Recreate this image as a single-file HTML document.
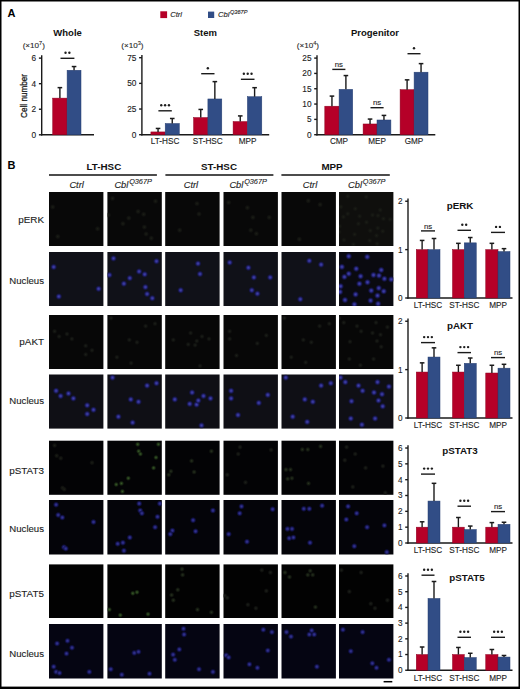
<!DOCTYPE html>
<html><head><meta charset="utf-8"><style>
html,body{margin:0;padding:0;background:#fff;}
svg{display:block;font-family:"Liberation Sans", sans-serif;}
</style></head><body>
<svg width="520" height="689" viewBox="0 0 520 689">
<rect width="520" height="689" fill="#fff"/>
<text x="7.4" y="16.6" font-size="11" text-anchor="start" font-weight="bold" font-style="normal" fill="#000"  >A</text>
<rect x="160.3" y="11.3" width="6.8" height="6.8" fill="#b50028" />
<text x="170.2" y="16.8" font-size="7.6" text-anchor="start" font-weight="normal" font-style="italic" fill="#1c1c1c" stroke="#1c1c1c" stroke-width="0.12" >Ctrl</text>
<rect x="208" y="11.6" width="6.2" height="6.4" fill="#314d86" />
<text x="218" y="16.6" font-size="7.6" text-anchor="start" font-weight="normal" font-style="italic" fill="#1c1c1c" stroke="#1c1c1c" stroke-width="0.12" >Cbl<tspan font-size="5.6" dx="0.6" dy="-3.0">Q367P</tspan></text>
<text x="67.6" y="36.3" font-size="9.5" text-anchor="middle" font-weight="bold" font-style="normal" fill="#111"  >Whole</text>
<text x="33.8" y="48.4" font-size="8.1" text-anchor="middle" font-weight="normal" font-style="normal" fill="#2a2a2a" stroke="#2a2a2a" stroke-width="0.12" >(×10<tspan font-size="5.6" dy="-3.3">7</tspan><tspan dy="3.3">)</tspan></text>
<line x1="41.7" y1="55.32" x2="41.7" y2="135.5" stroke="#1a1a1a" stroke-width="1.4" />
<line x1="41.1" y1="134.8" x2="94" y2="134.8" stroke="#1a1a1a" stroke-width="1.4" />
<line x1="38.9" y1="134.8" x2="41.7" y2="134.8" stroke="#1a1a1a" stroke-width="1.4" />
<text x="36.2" y="137.79" font-size="8.3" text-anchor="end" font-weight="normal" font-style="normal" fill="#1c1c1c" stroke="#1c1c1c" stroke-width="0.12" >0</text>
<line x1="38.9" y1="109.24" x2="41.7" y2="109.24" stroke="#1a1a1a" stroke-width="1.4" />
<text x="36.2" y="112.23" font-size="8.3" text-anchor="end" font-weight="normal" font-style="normal" fill="#1c1c1c" stroke="#1c1c1c" stroke-width="0.12" >2</text>
<line x1="38.9" y1="83.68" x2="41.7" y2="83.68" stroke="#1a1a1a" stroke-width="1.4" />
<text x="36.2" y="86.67" font-size="8.3" text-anchor="end" font-weight="normal" font-style="normal" fill="#1c1c1c" stroke="#1c1c1c" stroke-width="0.12" >4</text>
<line x1="38.9" y1="58.12" x2="41.7" y2="58.12" stroke="#1a1a1a" stroke-width="1.4" />
<text x="36.2" y="61.11" font-size="8.3" text-anchor="end" font-weight="normal" font-style="normal" fill="#1c1c1c" stroke="#1c1c1c" stroke-width="0.12" >6</text>
<rect x="52.7" y="98.12" width="14.4" height="36.68" fill="#b50028" stroke="#8e0020" stroke-width="0.5"/>
<line x1="59.9" y1="98.12" x2="59.9" y2="87.64" stroke="#1a1a1a" stroke-width="1.4" />
<line x1="57.6" y1="87.64" x2="62.2" y2="87.64" stroke="#1a1a1a" stroke-width="1.5" />
<rect x="67.1" y="70.26" width="13.9" height="64.54" fill="#314d86" stroke="#263f72" stroke-width="0.5"/>
<line x1="74.05" y1="70.26" x2="74.05" y2="66.55" stroke="#1a1a1a" stroke-width="1.4" />
<line x1="71.75" y1="66.55" x2="76.35" y2="66.55" stroke="#1a1a1a" stroke-width="1.5" />
<line x1="60.5" y1="58.3" x2="74.4" y2="58.3" stroke="#1a1a1a" stroke-width="1.4" />
<circle cx="65.53" cy="52.8" r="1.2" fill="#1e1e1e" />
<circle cx="69.38" cy="52.8" r="1.2" fill="#1e1e1e" />
<text transform="translate(26.8,95.9) rotate(-90)" font-size="9.9" text-anchor="middle" fill="#1c1c1c" stroke="#1c1c1c" stroke-width="0.3" textLength="44" lengthAdjust="spacingAndGlyphs">Cell number</text>
<text x="205.3" y="36.3" font-size="9.5" text-anchor="middle" font-weight="bold" font-style="normal" fill="#111"  >Stem</text>
<text x="132.4" y="48.4" font-size="8.1" text-anchor="middle" font-weight="normal" font-style="normal" fill="#2a2a2a" stroke="#2a2a2a" stroke-width="0.12" >(×10<tspan font-size="5.6" dy="-3.3">3</tspan><tspan dy="3.3">)</tspan></text>
<line x1="141.9" y1="54.9" x2="141.9" y2="135.4" stroke="#1a1a1a" stroke-width="1.4" />
<line x1="141.3" y1="134.7" x2="269.2" y2="134.7" stroke="#1a1a1a" stroke-width="1.4" />
<line x1="139.1" y1="134.7" x2="141.9" y2="134.7" stroke="#1a1a1a" stroke-width="1.4" />
<text x="136.4" y="137.69" font-size="8.3" text-anchor="end" font-weight="normal" font-style="normal" fill="#1c1c1c" stroke="#1c1c1c" stroke-width="0.12" >0</text>
<line x1="139.1" y1="109.03" x2="141.9" y2="109.03" stroke="#1a1a1a" stroke-width="1.4" />
<text x="136.4" y="112.02" font-size="8.3" text-anchor="end" font-weight="normal" font-style="normal" fill="#1c1c1c" stroke="#1c1c1c" stroke-width="0.12" >25</text>
<line x1="139.1" y1="83.37" x2="141.9" y2="83.37" stroke="#1a1a1a" stroke-width="1.4" />
<text x="136.4" y="86.35" font-size="8.3" text-anchor="end" font-weight="normal" font-style="normal" fill="#1c1c1c" stroke="#1c1c1c" stroke-width="0.12" >50</text>
<line x1="139.1" y1="57.7" x2="141.9" y2="57.7" stroke="#1a1a1a" stroke-width="1.4" />
<text x="136.4" y="60.69" font-size="8.3" text-anchor="end" font-weight="normal" font-style="normal" fill="#1c1c1c" stroke="#1c1c1c" stroke-width="0.12" >75</text>
<rect x="150.9" y="131.93" width="14.3" height="2.77" fill="#b50028" stroke="#8e0020" stroke-width="0.5"/>
<line x1="158.05" y1="131.93" x2="158.05" y2="128.44" stroke="#1a1a1a" stroke-width="1.4" />
<line x1="155.75" y1="128.44" x2="160.35" y2="128.44" stroke="#1a1a1a" stroke-width="1.5" />
<rect x="165.2" y="123.51" width="14.1" height="11.19" fill="#314d86" stroke="#263f72" stroke-width="0.5"/>
<line x1="172.25" y1="123.51" x2="172.25" y2="118.48" stroke="#1a1a1a" stroke-width="1.4" />
<line x1="169.95" y1="118.48" x2="174.55" y2="118.48" stroke="#1a1a1a" stroke-width="1.5" />
<rect x="193.6" y="117.55" width="14.3" height="17.15" fill="#b50028" stroke="#8e0020" stroke-width="0.5"/>
<line x1="200.75" y1="117.55" x2="200.75" y2="109.44" stroke="#1a1a1a" stroke-width="1.4" />
<line x1="198.45" y1="109.44" x2="203.05" y2="109.44" stroke="#1a1a1a" stroke-width="1.5" />
<rect x="207.9" y="98.97" width="13.9" height="35.73" fill="#314d86" stroke="#263f72" stroke-width="0.5"/>
<line x1="214.85" y1="98.97" x2="214.85" y2="81.62" stroke="#1a1a1a" stroke-width="1.4" />
<line x1="212.55" y1="81.62" x2="217.15" y2="81.62" stroke="#1a1a1a" stroke-width="1.5" />
<rect x="233.1" y="121.56" width="14.3" height="13.14" fill="#b50028" stroke="#8e0020" stroke-width="0.5"/>
<line x1="240.25" y1="121.56" x2="240.25" y2="115.91" stroke="#1a1a1a" stroke-width="1.4" />
<line x1="237.95" y1="115.91" x2="242.55" y2="115.91" stroke="#1a1a1a" stroke-width="1.5" />
<rect x="247.4" y="96.71" width="14.4" height="37.99" fill="#314d86" stroke="#263f72" stroke-width="0.5"/>
<line x1="254.6" y1="96.71" x2="254.6" y2="87.68" stroke="#1a1a1a" stroke-width="1.4" />
<line x1="252.3" y1="87.68" x2="256.9" y2="87.68" stroke="#1a1a1a" stroke-width="1.5" />
<line x1="158.4" y1="110.8" x2="171.8" y2="110.8" stroke="#1a1a1a" stroke-width="1.4" />
<circle cx="161.25" cy="105.3" r="1.2" fill="#1e1e1e" />
<circle cx="165.1" cy="105.3" r="1.2" fill="#1e1e1e" />
<circle cx="168.95" cy="105.3" r="1.2" fill="#1e1e1e" />
<line x1="201.2" y1="73.7" x2="214.5" y2="73.7" stroke="#1a1a1a" stroke-width="1.4" />
<circle cx="207.85" cy="68.2" r="1.2" fill="#1e1e1e" />
<line x1="240.9" y1="79.3" x2="254.5" y2="79.3" stroke="#1a1a1a" stroke-width="1.4" />
<circle cx="243.85" cy="73.8" r="1.2" fill="#1e1e1e" />
<circle cx="247.7" cy="73.8" r="1.2" fill="#1e1e1e" />
<circle cx="251.55" cy="73.8" r="1.2" fill="#1e1e1e" />
<text x="165.1" y="144.4" font-size="8.2" text-anchor="middle" font-weight="normal" font-style="normal" fill="#1c1c1c" stroke="#1c1c1c" stroke-width="0.12" >LT-HSC</text>
<text x="207.7" y="144.4" font-size="8.2" text-anchor="middle" font-weight="normal" font-style="normal" fill="#1c1c1c" stroke="#1c1c1c" stroke-width="0.12" >ST-HSC</text>
<text x="247.5" y="144.4" font-size="8.2" text-anchor="middle" font-weight="normal" font-style="normal" fill="#1c1c1c" stroke="#1c1c1c" stroke-width="0.12" >MPP</text>
<text x="375" y="36.3" font-size="9.5" text-anchor="middle" font-weight="bold" font-style="normal" fill="#111"  >Progenitor</text>
<text x="307.9" y="48.4" font-size="8.1" text-anchor="middle" font-weight="normal" font-style="normal" fill="#2a2a2a" stroke="#2a2a2a" stroke-width="0.12" >(×10<tspan font-size="5.6" dy="-3.3">4</tspan><tspan dy="3.3">)</tspan></text>
<line x1="317" y1="55.3" x2="317" y2="135.4" stroke="#1a1a1a" stroke-width="1.4" />
<line x1="316.4" y1="134.7" x2="435.3" y2="134.7" stroke="#1a1a1a" stroke-width="1.4" />
<line x1="314.2" y1="134.7" x2="317" y2="134.7" stroke="#1a1a1a" stroke-width="1.4" />
<text x="311.5" y="137.69" font-size="8.3" text-anchor="end" font-weight="normal" font-style="normal" fill="#1c1c1c" stroke="#1c1c1c" stroke-width="0.12" >0</text>
<line x1="314.2" y1="119.38" x2="317" y2="119.38" stroke="#1a1a1a" stroke-width="1.4" />
<text x="311.5" y="122.37" font-size="8.3" text-anchor="end" font-weight="normal" font-style="normal" fill="#1c1c1c" stroke="#1c1c1c" stroke-width="0.12" >5</text>
<line x1="314.2" y1="104.06" x2="317" y2="104.06" stroke="#1a1a1a" stroke-width="1.4" />
<text x="311.5" y="107.05" font-size="8.3" text-anchor="end" font-weight="normal" font-style="normal" fill="#1c1c1c" stroke="#1c1c1c" stroke-width="0.12" >10</text>
<line x1="314.2" y1="88.74" x2="317" y2="88.74" stroke="#1a1a1a" stroke-width="1.4" />
<text x="311.5" y="91.73" font-size="8.3" text-anchor="end" font-weight="normal" font-style="normal" fill="#1c1c1c" stroke="#1c1c1c" stroke-width="0.12" >15</text>
<line x1="314.2" y1="73.42" x2="317" y2="73.42" stroke="#1a1a1a" stroke-width="1.4" />
<text x="311.5" y="76.41" font-size="8.3" text-anchor="end" font-weight="normal" font-style="normal" fill="#1c1c1c" stroke="#1c1c1c" stroke-width="0.12" >20</text>
<line x1="314.2" y1="58.1" x2="317" y2="58.1" stroke="#1a1a1a" stroke-width="1.4" />
<text x="311.5" y="61.09" font-size="8.3" text-anchor="end" font-weight="normal" font-style="normal" fill="#1c1c1c" stroke="#1c1c1c" stroke-width="0.12" >25</text>
<rect x="324.8" y="106.2" width="14.3" height="28.5" fill="#b50028" stroke="#8e0020" stroke-width="0.5"/>
<line x1="331.95" y1="106.2" x2="331.95" y2="96.09" stroke="#1a1a1a" stroke-width="1.4" />
<line x1="329.65" y1="96.09" x2="334.25" y2="96.09" stroke="#1a1a1a" stroke-width="1.5" />
<rect x="339.1" y="89.35" width="13.6" height="45.35" fill="#314d86" stroke="#263f72" stroke-width="0.5"/>
<line x1="345.9" y1="89.35" x2="345.9" y2="75.56" stroke="#1a1a1a" stroke-width="1.4" />
<line x1="343.6" y1="75.56" x2="348.2" y2="75.56" stroke="#1a1a1a" stroke-width="1.5" />
<rect x="363.1" y="123.98" width="13.9" height="10.72" fill="#b50028" stroke="#8e0020" stroke-width="0.5"/>
<line x1="370.05" y1="123.98" x2="370.05" y2="119.07" stroke="#1a1a1a" stroke-width="1.4" />
<line x1="367.75" y1="119.07" x2="372.35" y2="119.07" stroke="#1a1a1a" stroke-width="1.5" />
<rect x="377" y="119.99" width="13.9" height="14.71" fill="#314d86" stroke="#263f72" stroke-width="0.5"/>
<line x1="383.95" y1="119.99" x2="383.95" y2="115.4" stroke="#1a1a1a" stroke-width="1.4" />
<line x1="381.65" y1="115.4" x2="386.25" y2="115.4" stroke="#1a1a1a" stroke-width="1.5" />
<rect x="400.1" y="89.66" width="14" height="45.04" fill="#b50028" stroke="#8e0020" stroke-width="0.5"/>
<line x1="407.1" y1="89.66" x2="407.1" y2="79.85" stroke="#1a1a1a" stroke-width="1.4" />
<line x1="404.8" y1="79.85" x2="409.4" y2="79.85" stroke="#1a1a1a" stroke-width="1.5" />
<rect x="414.1" y="72.19" width="13.9" height="62.51" fill="#314d86" stroke="#263f72" stroke-width="0.5"/>
<line x1="421.05" y1="72.19" x2="421.05" y2="63.62" stroke="#1a1a1a" stroke-width="1.4" />
<line x1="418.75" y1="63.62" x2="423.35" y2="63.62" stroke="#1a1a1a" stroke-width="1.5" />
<line x1="332.3" y1="69.4" x2="345.4" y2="69.4" stroke="#1a1a1a" stroke-width="1.4" />
<text x="338.85" y="67.1" font-size="7.8" text-anchor="middle" font-weight="normal" font-style="normal" fill="#1c1c1c" stroke="#1c1c1c" stroke-width="0.12" >ns</text>
<line x1="370.5" y1="107.7" x2="383.6" y2="107.7" stroke="#1a1a1a" stroke-width="1.4" />
<text x="377.05" y="105.4" font-size="7.8" text-anchor="middle" font-weight="normal" font-style="normal" fill="#1c1c1c" stroke="#1c1c1c" stroke-width="0.12" >ns</text>
<line x1="407.5" y1="53.7" x2="420.5" y2="53.7" stroke="#1a1a1a" stroke-width="1.4" />
<circle cx="414" cy="48.2" r="1.2" fill="#1e1e1e" />
<text x="339" y="144.4" font-size="8.2" text-anchor="middle" font-weight="normal" font-style="normal" fill="#1c1c1c" stroke="#1c1c1c" stroke-width="0.12" >CMP</text>
<text x="377" y="144.4" font-size="8.2" text-anchor="middle" font-weight="normal" font-style="normal" fill="#1c1c1c" stroke="#1c1c1c" stroke-width="0.12" >MEP</text>
<text x="414" y="144.4" font-size="8.2" text-anchor="middle" font-weight="normal" font-style="normal" fill="#1c1c1c" stroke="#1c1c1c" stroke-width="0.12" >GMP</text>
<text x="7.4" y="168.7" font-size="11" text-anchor="start" font-weight="bold" font-style="normal" fill="#000"  >B</text>
<line x1="49" y1="175" x2="156.9" y2="175" stroke="#111" stroke-width="1.5" />
<text x="103.9" y="169.8" font-size="9.8" text-anchor="middle" font-weight="bold" font-style="normal" fill="#111"  >LT-HSC</text>
<line x1="165.4" y1="175" x2="273.4" y2="175" stroke="#111" stroke-width="1.5" />
<text x="219" y="169.8" font-size="9.8" text-anchor="middle" font-weight="bold" font-style="normal" fill="#111"  >ST-HSC</text>
<line x1="281.4" y1="175" x2="389.8" y2="175" stroke="#111" stroke-width="1.5" />
<text x="332" y="169.8" font-size="9.8" text-anchor="middle" font-weight="bold" font-style="normal" fill="#111"  >MPP</text>
<text x="69.4" y="187.8" font-size="9.3" text-anchor="start" font-weight="normal" font-style="italic" fill="#1c1c1c" stroke="#1c1c1c" stroke-width="0.12" >Ctrl</text>
<text x="114.4" y="187.7" font-size="9.3" text-anchor="start" font-weight="normal" font-style="italic" fill="#1c1c1c" stroke="#1c1c1c" stroke-width="0.12" >Cbl<tspan font-size="7.3" dx="0.8" dy="-3.7">Q367P</tspan></text>
<text x="183.7" y="187.8" font-size="9.3" text-anchor="start" font-weight="normal" font-style="italic" fill="#1c1c1c" stroke="#1c1c1c" stroke-width="0.12" >Ctrl</text>
<text x="229.4" y="187.7" font-size="9.3" text-anchor="start" font-weight="normal" font-style="italic" fill="#1c1c1c" stroke="#1c1c1c" stroke-width="0.12" >Cbl<tspan font-size="7.3" dx="0.8" dy="-3.7">Q367P</tspan></text>
<text x="302.8" y="187.8" font-size="9.3" text-anchor="start" font-weight="normal" font-style="italic" fill="#1c1c1c" stroke="#1c1c1c" stroke-width="0.12" >Ctrl</text>
<text x="348" y="187.7" font-size="9.3" text-anchor="start" font-weight="normal" font-style="italic" fill="#1c1c1c" stroke="#1c1c1c" stroke-width="0.12" >Cbl<tspan font-size="7.3" dx="0.8" dy="-3.7">Q367P</tspan></text>
<defs><radialGradient id="nb"><stop offset="0" stop-color="#4444a4"/><stop offset="0.35" stop-color="#2c2c8c"/><stop offset="0.7" stop-color="#181856" stop-opacity="0.65"/><stop offset="1" stop-color="#0c0c40" stop-opacity="0"/></radialGradient><radialGradient id="gd"><stop offset="0" stop-color="#28321e"/><stop offset="0.5" stop-color="#182014" stop-opacity="0.8"/><stop offset="1" stop-color="#141a10" stop-opacity="0"/></radialGradient><radialGradient id="ge"><stop offset="0" stop-color="#1c1e17"/><stop offset="0.6" stop-color="#151712" stop-opacity="0.6"/><stop offset="1" stop-color="#101010" stop-opacity="0"/></radialGradient><radialGradient id="gb"><stop offset="0" stop-color="#3a5a2a"/><stop offset="0.5" stop-color="#223a18" stop-opacity="0.8"/><stop offset="1" stop-color="#142010" stop-opacity="0"/></radialGradient><radialGradient id="gf"><stop offset="0" stop-color="#1c1f1a"/><stop offset="0.5" stop-color="#141612" stop-opacity="0.8"/><stop offset="1" stop-color="#101010" stop-opacity="0"/></radialGradient><radialGradient id="nd"><stop offset="0" stop-color="#36368e"/><stop offset="0.35" stop-color="#242478"/><stop offset="0.7" stop-color="#121250" stop-opacity="0.65"/><stop offset="1" stop-color="#0c0c40" stop-opacity="0"/></radialGradient></defs>
<clipPath id="c00"><rect x="49" y="192" width="54.4" height="54"/></clipPath>
<rect x="49" y="192" width="54.4" height="54" fill="#080808" />
<g clip-path="url(#c00)">
<circle cx="52.7" cy="207" r="3" fill="url(#ge)" />
<circle cx="57.8" cy="236.5" r="3" fill="url(#ge)" />
<circle cx="97.6" cy="228.8" r="3" fill="url(#ge)" />
</g>
<clipPath id="c01"><rect x="107.4" y="192" width="54.4" height="54"/></clipPath>
<rect x="107.4" y="192" width="54.4" height="54" fill="#080808" />
<g clip-path="url(#c01)">
<circle cx="112.5" cy="198.4" r="3" fill="url(#ge)" />
<circle cx="108.4" cy="215" r="3" fill="url(#ge)" />
<circle cx="122.9" cy="223.7" r="3" fill="url(#ge)" />
<circle cx="128.8" cy="218.1" r="3" fill="url(#ge)" />
<circle cx="138.1" cy="211.5" r="3" fill="url(#ge)" />
<circle cx="143.7" cy="214.3" r="3" fill="url(#ge)" />
<circle cx="144.4" cy="227.1" r="3" fill="url(#ge)" />
<circle cx="146.1" cy="234" r="3" fill="url(#ge)" />
<circle cx="151.3" cy="238.2" r="3" fill="url(#ge)" />
<circle cx="155.5" cy="201.2" r="3" fill="url(#ge)" />
</g>
<clipPath id="c02"><rect x="165.2" y="192" width="54.4" height="54"/></clipPath>
<rect x="165.2" y="192" width="54.4" height="54" fill="#080808" />
<g clip-path="url(#c02)">
<circle cx="197" cy="203.6" r="3" fill="url(#ge)" />
<circle cx="199" cy="214" r="3" fill="url(#ge)" />
<circle cx="179.7" cy="230.2" r="3" fill="url(#ge)" />
</g>
<clipPath id="c03"><rect x="223.5" y="192" width="54.4" height="54"/></clipPath>
<rect x="223.5" y="192" width="54.4" height="54" fill="#080808" />
<g clip-path="url(#c03)">
<circle cx="228.7" cy="202.5" r="3" fill="url(#ge)" />
<circle cx="247.4" cy="207.7" r="3" fill="url(#ge)" />
<circle cx="252.9" cy="217.4" r="3" fill="url(#ge)" />
<circle cx="269.2" cy="217.4" r="3" fill="url(#ge)" />
<circle cx="250.8" cy="230.2" r="3" fill="url(#ge)" />
<circle cx="256.4" cy="233.7" r="3" fill="url(#ge)" />
</g>
<clipPath id="c04"><rect x="281.5" y="192" width="54.4" height="54"/></clipPath>
<rect x="281.5" y="192" width="54.4" height="54" fill="#080808" />
<g clip-path="url(#c04)">
<circle cx="308.3" cy="200.8" r="3" fill="url(#ge)" />
<circle cx="320.1" cy="204.6" r="3" fill="url(#ge)" />
<circle cx="299.3" cy="239.2" r="3" fill="url(#ge)" />
</g>
<clipPath id="c05"><rect x="339" y="192" width="54.4" height="54"/></clipPath>
<rect x="339" y="192" width="54.4" height="54" fill="#0f0f0d" />
<g clip-path="url(#c05)">
<circle cx="347.75" cy="196.25" r="3" fill="url(#ge)" />
<circle cx="366.25" cy="196.9" r="3" fill="url(#ge)" />
<circle cx="340.9" cy="206.9" r="3" fill="url(#ge)" />
<circle cx="355.25" cy="208.75" r="3" fill="url(#ge)" />
<circle cx="380.25" cy="210" r="3" fill="url(#ge)" />
<circle cx="347.75" cy="213.75" r="3" fill="url(#ge)" />
<circle cx="343.4" cy="216.9" r="3" fill="url(#ge)" />
<circle cx="359.6" cy="216.25" r="3" fill="url(#ge)" />
<circle cx="372.5" cy="215" r="3" fill="url(#ge)" />
<circle cx="378" cy="215.6" r="3" fill="url(#ge)" />
<circle cx="383.4" cy="218.75" r="3" fill="url(#ge)" />
<circle cx="390.25" cy="219.4" r="3" fill="url(#ge)" />
<circle cx="366.5" cy="222.25" r="3" fill="url(#ge)" />
<circle cx="358.4" cy="223.75" r="3" fill="url(#ge)" />
<circle cx="339.6" cy="226.25" r="3" fill="url(#ge)" />
<circle cx="370.25" cy="230.6" r="3" fill="url(#ge)" />
<circle cx="377.75" cy="228.1" r="3" fill="url(#ge)" />
<circle cx="382.75" cy="231.25" r="3" fill="url(#ge)" />
<circle cx="339" cy="231.9" r="3" fill="url(#ge)" />
<circle cx="354.6" cy="234.4" r="3" fill="url(#ge)" />
<circle cx="376.5" cy="235.6" r="3" fill="url(#ge)" />
<circle cx="344" cy="240" r="3" fill="url(#ge)" />
<circle cx="369.6" cy="240.6" r="3" fill="url(#ge)" />
<circle cx="377.1" cy="243.75" r="3" fill="url(#ge)" />
<circle cx="353.4" cy="244.4" r="3" fill="url(#ge)" />
</g>
<text x="44" y="222.5" font-size="9.9" text-anchor="end" font-weight="normal" font-style="normal" fill="#1c1c1c" stroke="#1c1c1c" stroke-width="0.12" >pERK</text>
<clipPath id="c10"><rect x="49" y="252" width="54.4" height="54"/></clipPath>
<rect x="49" y="252" width="54.4" height="54" fill="#101118" />
<g clip-path="url(#c10)">
<circle cx="53.7" cy="267" r="3.6" fill="url(#nb)" />
<circle cx="58.8" cy="296.5" r="3.6" fill="url(#nb)" />
<circle cx="98.6" cy="288.8" r="3.6" fill="url(#nb)" />
</g>
<clipPath id="c11"><rect x="107.4" y="252" width="54.4" height="54"/></clipPath>
<rect x="107.4" y="252" width="54.4" height="54" fill="#101118" />
<g clip-path="url(#c11)">
<circle cx="113.5" cy="258.4" r="3.6" fill="url(#nb)" />
<circle cx="109.4" cy="275" r="3.6" fill="url(#nb)" />
<circle cx="123.9" cy="283.7" r="3.6" fill="url(#nb)" />
<circle cx="129.8" cy="278.1" r="3.6" fill="url(#nb)" />
<circle cx="139.1" cy="271.5" r="3.6" fill="url(#nb)" />
<circle cx="144.7" cy="274.3" r="3.6" fill="url(#nb)" />
<circle cx="145.4" cy="287.1" r="3.6" fill="url(#nb)" />
<circle cx="147.1" cy="294" r="3.6" fill="url(#nb)" />
<circle cx="152.3" cy="298.2" r="3.6" fill="url(#nb)" />
<circle cx="156.5" cy="261.2" r="3.6" fill="url(#nb)" />
</g>
<clipPath id="c12"><rect x="165.2" y="252" width="54.4" height="54"/></clipPath>
<rect x="165.2" y="252" width="54.4" height="54" fill="#101118" />
<g clip-path="url(#c12)">
<circle cx="198" cy="263.6" r="3.6" fill="url(#nb)" />
<circle cx="200" cy="274" r="3.6" fill="url(#nb)" />
<circle cx="180.7" cy="290.2" r="3.6" fill="url(#nb)" />
</g>
<clipPath id="c13"><rect x="223.5" y="252" width="54.4" height="54"/></clipPath>
<rect x="223.5" y="252" width="54.4" height="54" fill="#101118" />
<g clip-path="url(#c13)">
<circle cx="229.7" cy="262.5" r="3.6" fill="url(#nb)" />
<circle cx="248.4" cy="267.7" r="3.6" fill="url(#nb)" />
<circle cx="253.9" cy="277.4" r="3.6" fill="url(#nb)" />
<circle cx="270.2" cy="277.4" r="3.6" fill="url(#nb)" />
<circle cx="251.8" cy="290.2" r="3.6" fill="url(#nb)" />
<circle cx="257.4" cy="293.7" r="3.6" fill="url(#nb)" />
</g>
<clipPath id="c14"><rect x="281.5" y="252" width="54.4" height="54"/></clipPath>
<rect x="281.5" y="252" width="54.4" height="54" fill="#101118" />
<g clip-path="url(#c14)">
<circle cx="309.3" cy="260.8" r="3.6" fill="url(#nb)" />
<circle cx="321.1" cy="264.6" r="3.6" fill="url(#nb)" />
<circle cx="300.3" cy="299.2" r="3.6" fill="url(#nb)" />
</g>
<clipPath id="c15"><rect x="339" y="252" width="54.4" height="54"/></clipPath>
<rect x="339" y="252" width="54.4" height="54" fill="#0a0a10" />
<g clip-path="url(#c15)">
<circle cx="348.75" cy="256.25" r="3.6" fill="url(#nb)" />
<circle cx="367.25" cy="256.9" r="3.6" fill="url(#nb)" />
<circle cx="341.9" cy="266.9" r="3.6" fill="url(#nb)" />
<circle cx="356.25" cy="268.75" r="3.6" fill="url(#nb)" />
<circle cx="381.25" cy="270" r="3.6" fill="url(#nb)" />
<circle cx="348.75" cy="273.75" r="3.6" fill="url(#nb)" />
<circle cx="344.4" cy="276.9" r="3.6" fill="url(#nb)" />
<circle cx="360.6" cy="276.25" r="3.6" fill="url(#nb)" />
<circle cx="373.5" cy="275" r="3.6" fill="url(#nb)" />
<circle cx="379" cy="275.6" r="3.6" fill="url(#nb)" />
<circle cx="384.4" cy="278.75" r="3.6" fill="url(#nb)" />
<circle cx="391.25" cy="279.4" r="3.6" fill="url(#nb)" />
<circle cx="367.5" cy="282.25" r="3.6" fill="url(#nb)" />
<circle cx="359.4" cy="283.75" r="3.6" fill="url(#nb)" />
<circle cx="340.6" cy="286.25" r="3.6" fill="url(#nb)" />
<circle cx="371.25" cy="290.6" r="3.6" fill="url(#nb)" />
<circle cx="378.75" cy="288.1" r="3.6" fill="url(#nb)" />
<circle cx="383.75" cy="291.25" r="3.6" fill="url(#nb)" />
<circle cx="340" cy="291.9" r="3.6" fill="url(#nb)" />
<circle cx="355.6" cy="294.4" r="3.6" fill="url(#nb)" />
<circle cx="377.5" cy="295.6" r="3.6" fill="url(#nb)" />
<circle cx="345" cy="300" r="3.6" fill="url(#nb)" />
<circle cx="370.6" cy="300.6" r="3.6" fill="url(#nb)" />
<circle cx="378.1" cy="303.75" r="3.6" fill="url(#nb)" />
<circle cx="354.4" cy="304.4" r="3.6" fill="url(#nb)" />
</g>
<text x="44" y="284.3" font-size="9.6" text-anchor="end" font-weight="normal" font-style="normal" fill="#1c1c1c" stroke="#1c1c1c" stroke-width="0.12" >Nucleus</text>
<clipPath id="c20"><rect x="49" y="315" width="54.4" height="54"/></clipPath>
<rect x="49" y="315" width="54.4" height="54" fill="#070707" />
<g clip-path="url(#c20)">
<circle cx="54.6" cy="331.3" r="2.8" fill="url(#gf)" />
<circle cx="59.1" cy="336.5" r="2.8" fill="url(#gf)" />
<circle cx="67" cy="334" r="2.8" fill="url(#gf)" />
<circle cx="71.9" cy="338.9" r="2.8" fill="url(#gf)" />
<circle cx="85.7" cy="345.8" r="2.8" fill="url(#gf)" />
<circle cx="92" cy="350.3" r="2.8" fill="url(#gf)" />
<circle cx="85.7" cy="354.5" r="2.8" fill="url(#gf)" />
</g>
<clipPath id="c21"><rect x="107.4" y="315" width="54.4" height="54"/></clipPath>
<rect x="107.4" y="315" width="54.4" height="54" fill="#070707" />
<g clip-path="url(#c21)">
<circle cx="111" cy="318.1" r="2.8" fill="url(#gf)" />
<circle cx="145.6" cy="326.1" r="2.8" fill="url(#gf)" />
<circle cx="155" cy="323.7" r="2.8" fill="url(#gf)" />
<circle cx="129.3" cy="339.9" r="2.8" fill="url(#gf)" />
<circle cx="137" cy="342.3" r="2.8" fill="url(#gf)" />
<circle cx="116.9" cy="357.2" r="2.8" fill="url(#gf)" />
<circle cx="131.1" cy="363.1" r="2.8" fill="url(#gf)" />
</g>
<clipPath id="c22"><rect x="165.2" y="315" width="54.4" height="54"/></clipPath>
<rect x="165.2" y="315" width="54.4" height="54" fill="#070707" />
<g clip-path="url(#c22)">
<circle cx="173.3" cy="339.9" r="2.8" fill="url(#gf)" />
<circle cx="190.6" cy="333" r="2.8" fill="url(#gf)" />
<circle cx="188.2" cy="344.4" r="2.8" fill="url(#gf)" />
<circle cx="195.1" cy="345.1" r="2.8" fill="url(#gf)" />
<circle cx="196.8" cy="341" r="2.8" fill="url(#gf)" />
<circle cx="202" cy="336.5" r="2.8" fill="url(#gf)" />
<circle cx="209" cy="338.9" r="2.8" fill="url(#gf)" />
<circle cx="200" cy="365.9" r="2.8" fill="url(#gf)" />
</g>
<clipPath id="c23"><rect x="223.5" y="315" width="54.4" height="54"/></clipPath>
<rect x="223.5" y="315" width="54.4" height="54" fill="#070707" />
<g clip-path="url(#c23)">
<circle cx="229.6" cy="331.3" r="2.8" fill="url(#gf)" />
<circle cx="229.6" cy="338.9" r="2.8" fill="url(#gf)" />
<circle cx="257.3" cy="343.4" r="2.8" fill="url(#gf)" />
<circle cx="266.3" cy="335.4" r="2.8" fill="url(#gf)" />
<circle cx="236.5" cy="355.5" r="2.8" fill="url(#gf)" />
</g>
<clipPath id="c24"><rect x="281.5" y="315" width="54.4" height="54"/></clipPath>
<rect x="281.5" y="315" width="54.4" height="54" fill="#070707" />
<g clip-path="url(#c24)">
<circle cx="284.3" cy="318.1" r="2.8" fill="url(#gf)" />
<circle cx="319.6" cy="326.1" r="2.8" fill="url(#gf)" />
<circle cx="329.3" cy="323.7" r="2.8" fill="url(#gf)" />
<circle cx="303.3" cy="339.9" r="2.8" fill="url(#gf)" />
<circle cx="311.3" cy="342.3" r="2.8" fill="url(#gf)" />
<circle cx="291.2" cy="357.2" r="2.8" fill="url(#gf)" />
<circle cx="305.7" cy="362.4" r="2.8" fill="url(#gf)" />
</g>
<clipPath id="c25"><rect x="339" y="315" width="54.4" height="54"/></clipPath>
<rect x="339" y="315" width="54.4" height="54" fill="#070707" />
<g clip-path="url(#c25)">
<circle cx="339" cy="318.1" r="2.8" fill="url(#gf)" />
<circle cx="343.8" cy="322.6" r="2.8" fill="url(#gf)" />
<circle cx="357" cy="326.1" r="2.8" fill="url(#gf)" />
<circle cx="361.1" cy="331.3" r="2.8" fill="url(#gf)" />
<circle cx="376" cy="322.6" r="2.8" fill="url(#gf)" />
<circle cx="387.4" cy="327.1" r="2.8" fill="url(#gf)" />
<circle cx="372.5" cy="333" r="2.8" fill="url(#gf)" />
<circle cx="380.5" cy="334.7" r="2.8" fill="url(#gf)" />
<circle cx="377" cy="341" r="2.8" fill="url(#gf)" />
<circle cx="350" cy="341.7" r="2.8" fill="url(#gf)" />
<circle cx="381.2" cy="346.8" r="2.8" fill="url(#gf)" />
<circle cx="349.3" cy="359" r="2.8" fill="url(#gf)" />
<circle cx="373.6" cy="359" r="2.8" fill="url(#gf)" />
<circle cx="360.4" cy="365.2" r="2.8" fill="url(#gf)" />
</g>
<text x="44" y="344.5" font-size="9.9" text-anchor="end" font-weight="normal" font-style="normal" fill="#1c1c1c" stroke="#1c1c1c" stroke-width="0.12" >pAKT</text>
<clipPath id="c30"><rect x="49" y="374.5" width="54.4" height="54.1"/></clipPath>
<rect x="49" y="374.5" width="54.4" height="54.1" fill="#0f0f15" />
<g clip-path="url(#c30)">
<circle cx="56.1" cy="390.8" r="3.6" fill="url(#nb)" />
<circle cx="60.6" cy="396" r="3.6" fill="url(#nb)" />
<circle cx="68.5" cy="393.5" r="3.6" fill="url(#nb)" />
<circle cx="73.4" cy="398.4" r="3.6" fill="url(#nb)" />
<circle cx="87.2" cy="405.3" r="3.6" fill="url(#nb)" />
<circle cx="93.5" cy="409.8" r="3.6" fill="url(#nb)" />
<circle cx="87.2" cy="414" r="3.6" fill="url(#nb)" />
</g>
<clipPath id="c31"><rect x="107.4" y="374.5" width="54.4" height="54.1"/></clipPath>
<rect x="107.4" y="374.5" width="54.4" height="54.1" fill="#0f0f15" />
<g clip-path="url(#c31)">
<circle cx="112.5" cy="377.6" r="3.6" fill="url(#nb)" />
<circle cx="147.1" cy="385.6" r="3.6" fill="url(#nb)" />
<circle cx="156.5" cy="383.2" r="3.6" fill="url(#nb)" />
<circle cx="130.8" cy="399.4" r="3.6" fill="url(#nb)" />
<circle cx="138.5" cy="401.8" r="3.6" fill="url(#nb)" />
<circle cx="118.4" cy="416.7" r="3.6" fill="url(#nb)" />
<circle cx="132.6" cy="422.6" r="3.6" fill="url(#nb)" />
</g>
<clipPath id="c32"><rect x="165.2" y="374.5" width="54.4" height="54.1"/></clipPath>
<rect x="165.2" y="374.5" width="54.4" height="54.1" fill="#0f0f15" />
<g clip-path="url(#c32)">
<circle cx="174.8" cy="399.4" r="3.6" fill="url(#nb)" />
<circle cx="192.1" cy="392.5" r="3.6" fill="url(#nb)" />
<circle cx="189.7" cy="403.9" r="3.6" fill="url(#nb)" />
<circle cx="196.6" cy="404.6" r="3.6" fill="url(#nb)" />
<circle cx="198.3" cy="400.5" r="3.6" fill="url(#nb)" />
<circle cx="203.5" cy="396" r="3.6" fill="url(#nb)" />
<circle cx="210.5" cy="398.4" r="3.6" fill="url(#nb)" />
<circle cx="201.5" cy="425.4" r="3.6" fill="url(#nb)" />
</g>
<clipPath id="c33"><rect x="223.5" y="374.5" width="54.4" height="54.1"/></clipPath>
<rect x="223.5" y="374.5" width="54.4" height="54.1" fill="#0f0f15" />
<g clip-path="url(#c33)">
<circle cx="231.1" cy="390.8" r="3.6" fill="url(#nb)" />
<circle cx="231.1" cy="398.4" r="3.6" fill="url(#nb)" />
<circle cx="258.8" cy="402.9" r="3.6" fill="url(#nb)" />
<circle cx="267.8" cy="394.9" r="3.6" fill="url(#nb)" />
<circle cx="238" cy="415" r="3.6" fill="url(#nb)" />
</g>
<clipPath id="c34"><rect x="281.5" y="374.5" width="54.4" height="54.1"/></clipPath>
<rect x="281.5" y="374.5" width="54.4" height="54.1" fill="#0f0f15" />
<g clip-path="url(#c34)">
<circle cx="285.8" cy="377.6" r="3.6" fill="url(#nb)" />
<circle cx="321.1" cy="385.6" r="3.6" fill="url(#nb)" />
<circle cx="330.8" cy="383.2" r="3.6" fill="url(#nb)" />
<circle cx="304.8" cy="399.4" r="3.6" fill="url(#nb)" />
<circle cx="312.8" cy="401.8" r="3.6" fill="url(#nb)" />
<circle cx="292.7" cy="416.7" r="3.6" fill="url(#nb)" />
<circle cx="307.2" cy="421.9" r="3.6" fill="url(#nb)" />
</g>
<clipPath id="c35"><rect x="339" y="374.5" width="54.4" height="54.1"/></clipPath>
<rect x="339" y="374.5" width="54.4" height="54.1" fill="#0f0f15" />
<g clip-path="url(#c35)">
<circle cx="340.5" cy="377.6" r="3.6" fill="url(#nb)" />
<circle cx="345.3" cy="382.1" r="3.6" fill="url(#nb)" />
<circle cx="358.5" cy="385.6" r="3.6" fill="url(#nb)" />
<circle cx="362.6" cy="390.8" r="3.6" fill="url(#nb)" />
<circle cx="377.5" cy="382.1" r="3.6" fill="url(#nb)" />
<circle cx="388.9" cy="386.6" r="3.6" fill="url(#nb)" />
<circle cx="374" cy="392.5" r="3.6" fill="url(#nb)" />
<circle cx="382" cy="394.2" r="3.6" fill="url(#nb)" />
<circle cx="378.5" cy="400.5" r="3.6" fill="url(#nb)" />
<circle cx="351.5" cy="401.2" r="3.6" fill="url(#nb)" />
<circle cx="382.7" cy="406.3" r="3.6" fill="url(#nb)" />
<circle cx="350.8" cy="418.5" r="3.6" fill="url(#nb)" />
<circle cx="375.1" cy="418.5" r="3.6" fill="url(#nb)" />
<circle cx="361.9" cy="424.7" r="3.6" fill="url(#nb)" />
</g>
<text x="44" y="404" font-size="9.6" text-anchor="end" font-weight="normal" font-style="normal" fill="#1c1c1c" stroke="#1c1c1c" stroke-width="0.12" >Nucleus</text>
<clipPath id="c40"><rect x="49" y="440.7" width="54.4" height="54.1"/></clipPath>
<rect x="49" y="440.7" width="54.4" height="54.1" fill="#030305" />
<g clip-path="url(#c40)">
<circle cx="54.6" cy="445.4" r="2.8" fill="url(#ge)" />
<circle cx="56.7" cy="455.7" r="2.8" fill="url(#ge)" />
<circle cx="60.8" cy="458.2" r="2.8" fill="url(#ge)" />
<circle cx="92" cy="462.7" r="2.8" fill="url(#ge)" />
<circle cx="62.5" cy="487.9" r="2.8" fill="url(#ge)" />
<circle cx="64.3" cy="489.3" r="2.8" fill="url(#ge)" />
</g>
<clipPath id="c41"><rect x="107.4" y="440.7" width="54.4" height="54.1"/></clipPath>
<rect x="107.4" y="440.7" width="54.4" height="54.1" fill="#030305" />
<g clip-path="url(#c41)">
<circle cx="137.7" cy="444.3" r="2.8" fill="url(#gb)" />
<circle cx="158.4" cy="444.3" r="2.8" fill="url(#gb)" />
<circle cx="138.7" cy="451.2" r="2.8" fill="url(#gb)" />
<circle cx="140.4" cy="454" r="2.8" fill="url(#gb)" />
<circle cx="156" cy="457.5" r="2.8" fill="url(#gb)" />
<circle cx="153.6" cy="467.9" r="2.8" fill="url(#gb)" />
<circle cx="128.3" cy="478.2" r="2.8" fill="url(#gb)" />
<circle cx="121.4" cy="483.4" r="2.8" fill="url(#gb)" />
<circle cx="116.2" cy="484.5" r="2.8" fill="url(#gb)" />
<circle cx="122.4" cy="491.4" r="2.8" fill="url(#gb)" />
</g>
<clipPath id="c42"><rect x="165.2" y="440.7" width="54.4" height="54.1"/></clipPath>
<rect x="165.2" y="440.7" width="54.4" height="54.1" fill="#030305" />
<g clip-path="url(#c42)">
<circle cx="211.4" cy="451.2" r="2.8" fill="url(#gd)" />
<circle cx="191.6" cy="460.9" r="2.8" fill="url(#gd)" />
<circle cx="194.1" cy="472" r="2.8" fill="url(#gd)" />
<circle cx="170.9" cy="471.3" r="2.8" fill="url(#gd)" />
<circle cx="168.8" cy="474.8" r="2.8" fill="url(#gd)" />
</g>
<clipPath id="c43"><rect x="223.5" y="440.7" width="54.4" height="54.1"/></clipPath>
<rect x="223.5" y="440.7" width="54.4" height="54.1" fill="#030305" />
<g clip-path="url(#c43)">
<circle cx="240" cy="447.1" r="2.8" fill="url(#gf)" />
<circle cx="238.2" cy="454" r="2.8" fill="url(#gf)" />
<circle cx="271.1" cy="449.9" r="2.8" fill="url(#gf)" />
<circle cx="227.2" cy="474.8" r="2.8" fill="url(#gf)" />
<circle cx="245.5" cy="482.4" r="2.8" fill="url(#gf)" />
</g>
<clipPath id="c44"><rect x="281.5" y="440.7" width="54.4" height="54.1"/></clipPath>
<rect x="281.5" y="440.7" width="54.4" height="54.1" fill="#030305" />
<g clip-path="url(#c44)">
<circle cx="302.3" cy="449.5" r="2.8" fill="url(#gd)" />
<circle cx="307.8" cy="449.5" r="2.8" fill="url(#gd)" />
<circle cx="320.6" cy="446.4" r="2.8" fill="url(#gd)" />
<circle cx="286" cy="469.6" r="2.8" fill="url(#gd)" />
<circle cx="290.5" cy="469.6" r="2.8" fill="url(#gd)" />
<circle cx="287.7" cy="478.9" r="2.8" fill="url(#gd)" />
<circle cx="291.9" cy="478.2" r="2.8" fill="url(#gd)" />
<circle cx="308.5" cy="483.4" r="2.8" fill="url(#gd)" />
</g>
<clipPath id="c45"><rect x="339" y="440.7" width="54.4" height="54.1"/></clipPath>
<rect x="339" y="440.7" width="54.4" height="54.1" fill="#030305" />
<g clip-path="url(#c45)">
<circle cx="346.6" cy="447.1" r="2.8" fill="url(#gf)" />
<circle cx="355.2" cy="454" r="2.8" fill="url(#gf)" />
<circle cx="344.8" cy="460.2" r="2.8" fill="url(#gf)" />
<circle cx="365.6" cy="467.9" r="2.8" fill="url(#gf)" />
<circle cx="382.9" cy="466.1" r="2.8" fill="url(#gf)" />
<circle cx="352.8" cy="486.9" r="2.8" fill="url(#gf)" />
<circle cx="385.3" cy="492.8" r="2.8" fill="url(#gf)" />
</g>
<text x="44" y="474.3" font-size="9.9" text-anchor="end" font-weight="normal" font-style="normal" fill="#1c1c1c" stroke="#1c1c1c" stroke-width="0.12" >pSTAT3</text>
<clipPath id="c50"><rect x="49" y="500" width="54.4" height="54.5"/></clipPath>
<rect x="49" y="500" width="54.4" height="54.5" fill="#040409" />
<g clip-path="url(#c50)">
<circle cx="56.1" cy="504.7" r="3.3" fill="url(#nd)" />
<circle cx="58.2" cy="515" r="3.3" fill="url(#nd)" />
<circle cx="62.3" cy="517.5" r="3.3" fill="url(#nd)" />
<circle cx="93.5" cy="522" r="3.3" fill="url(#nd)" />
<circle cx="64" cy="547.2" r="3.3" fill="url(#nd)" />
<circle cx="65.8" cy="548.6" r="3.3" fill="url(#nd)" />
</g>
<clipPath id="c51"><rect x="107.4" y="500" width="54.4" height="54.5"/></clipPath>
<rect x="107.4" y="500" width="54.4" height="54.5" fill="#040409" />
<g clip-path="url(#c51)">
<circle cx="139.2" cy="503.6" r="3.3" fill="url(#nd)" />
<circle cx="159.9" cy="503.6" r="3.3" fill="url(#nd)" />
<circle cx="140.2" cy="510.5" r="3.3" fill="url(#nd)" />
<circle cx="141.9" cy="513.3" r="3.3" fill="url(#nd)" />
<circle cx="157.5" cy="516.8" r="3.3" fill="url(#nd)" />
<circle cx="155.1" cy="527.2" r="3.3" fill="url(#nd)" />
<circle cx="129.8" cy="537.5" r="3.3" fill="url(#nd)" />
<circle cx="122.9" cy="542.7" r="3.3" fill="url(#nd)" />
<circle cx="117.7" cy="543.8" r="3.3" fill="url(#nd)" />
<circle cx="123.9" cy="550.7" r="3.3" fill="url(#nd)" />
</g>
<clipPath id="c52"><rect x="165.2" y="500" width="54.4" height="54.5"/></clipPath>
<rect x="165.2" y="500" width="54.4" height="54.5" fill="#040409" />
<g clip-path="url(#c52)">
<circle cx="212.9" cy="510.5" r="3.3" fill="url(#nd)" />
<circle cx="193.1" cy="520.2" r="3.3" fill="url(#nd)" />
<circle cx="195.6" cy="531.3" r="3.3" fill="url(#nd)" />
<circle cx="172.4" cy="530.6" r="3.3" fill="url(#nd)" />
<circle cx="170.3" cy="534.1" r="3.3" fill="url(#nd)" />
</g>
<clipPath id="c53"><rect x="223.5" y="500" width="54.4" height="54.5"/></clipPath>
<rect x="223.5" y="500" width="54.4" height="54.5" fill="#040409" />
<g clip-path="url(#c53)">
<circle cx="241.5" cy="506.4" r="3.3" fill="url(#nd)" />
<circle cx="239.7" cy="513.3" r="3.3" fill="url(#nd)" />
<circle cx="272.6" cy="509.2" r="3.3" fill="url(#nd)" />
<circle cx="228.7" cy="534.1" r="3.3" fill="url(#nd)" />
<circle cx="247" cy="541.7" r="3.3" fill="url(#nd)" />
</g>
<clipPath id="c54"><rect x="281.5" y="500" width="54.4" height="54.5"/></clipPath>
<rect x="281.5" y="500" width="54.4" height="54.5" fill="#040409" />
<g clip-path="url(#c54)">
<circle cx="303.8" cy="508.8" r="3.3" fill="url(#nd)" />
<circle cx="309.3" cy="508.8" r="3.3" fill="url(#nd)" />
<circle cx="322.1" cy="505.7" r="3.3" fill="url(#nd)" />
<circle cx="287.5" cy="528.9" r="3.3" fill="url(#nd)" />
<circle cx="292" cy="528.9" r="3.3" fill="url(#nd)" />
<circle cx="289.2" cy="538.2" r="3.3" fill="url(#nd)" />
<circle cx="293.4" cy="537.5" r="3.3" fill="url(#nd)" />
<circle cx="310" cy="542.7" r="3.3" fill="url(#nd)" />
</g>
<clipPath id="c55"><rect x="339" y="500" width="54.4" height="54.5"/></clipPath>
<rect x="339" y="500" width="54.4" height="54.5" fill="#040409" />
<g clip-path="url(#c55)">
<circle cx="348.1" cy="506.4" r="3.3" fill="url(#nd)" />
<circle cx="356.7" cy="513.3" r="3.3" fill="url(#nd)" />
<circle cx="346.3" cy="519.5" r="3.3" fill="url(#nd)" />
<circle cx="367.1" cy="527.2" r="3.3" fill="url(#nd)" />
<circle cx="384.4" cy="525.4" r="3.3" fill="url(#nd)" />
<circle cx="354.3" cy="546.2" r="3.3" fill="url(#nd)" />
<circle cx="386.8" cy="552.1" r="3.3" fill="url(#nd)" />
</g>
<text x="44" y="532" font-size="9.6" text-anchor="end" font-weight="normal" font-style="normal" fill="#1c1c1c" stroke="#1c1c1c" stroke-width="0.12" >Nucleus</text>
<clipPath id="c60"><rect x="49" y="564.4" width="54.4" height="53.6"/></clipPath>
<rect x="49" y="564.4" width="54.4" height="53.6" fill="#020202" />
<g clip-path="url(#c60)">
</g>
<clipPath id="c61"><rect x="107.4" y="564.4" width="54.4" height="53.6"/></clipPath>
<rect x="107.4" y="564.4" width="54.4" height="53.6" fill="#020202" />
<g clip-path="url(#c61)">
<circle cx="132.8" cy="593.3" r="2.8" fill="url(#gb)" />
<circle cx="137" cy="592.2" r="2.8" fill="url(#gb)" />
<circle cx="109.3" cy="609.6" r="2.8" fill="url(#gb)" />
<circle cx="120.3" cy="615.1" r="2.8" fill="url(#gb)" />
<circle cx="148" cy="614.1" r="2.8" fill="url(#gb)" />
</g>
<clipPath id="c62"><rect x="165.2" y="564.4" width="54.4" height="53.6"/></clipPath>
<rect x="165.2" y="564.4" width="54.4" height="53.6" fill="#020202" />
<g clip-path="url(#c62)">
<circle cx="182" cy="569.1" r="2.8" fill="url(#gd)" />
<circle cx="182.6" cy="574.9" r="2.8" fill="url(#gd)" />
<circle cx="177.8" cy="589.8" r="2.8" fill="url(#gd)" />
<circle cx="171.6" cy="595" r="2.8" fill="url(#gd)" />
<circle cx="173.3" cy="600.2" r="2.8" fill="url(#gd)" />
<circle cx="197.5" cy="609.6" r="2.8" fill="url(#gd)" />
<circle cx="211.4" cy="612.3" r="2.8" fill="url(#gd)" />
</g>
<clipPath id="c63"><rect x="223.5" y="564.4" width="54.4" height="53.6"/></clipPath>
<rect x="223.5" y="564.4" width="54.4" height="53.6" fill="#020202" />
<g clip-path="url(#c63)">
<circle cx="261.8" cy="570.1" r="2.8" fill="url(#gf)" />
<circle cx="270.4" cy="572.5" r="2.8" fill="url(#gf)" />
<circle cx="266.3" cy="590.9" r="2.8" fill="url(#gf)" />
<circle cx="224.7" cy="595.7" r="2.8" fill="url(#gf)" />
<circle cx="227.2" cy="597.8" r="2.8" fill="url(#gf)" />
<circle cx="247.9" cy="604.7" r="2.8" fill="url(#gf)" />
<circle cx="255.9" cy="608.2" r="2.8" fill="url(#gf)" />
</g>
<clipPath id="c64"><rect x="281.5" y="564.4" width="54.4" height="53.6"/></clipPath>
<rect x="281.5" y="564.4" width="54.4" height="53.6" fill="#020202" />
<g clip-path="url(#c64)">
<circle cx="285" cy="572.5" r="2.8" fill="url(#gd)" />
<circle cx="289.5" cy="577" r="2.8" fill="url(#gd)" />
<circle cx="307.8" cy="574.9" r="2.8" fill="url(#gd)" />
<circle cx="312.7" cy="574.9" r="2.8" fill="url(#gd)" />
<circle cx="310.2" cy="570.8" r="2.8" fill="url(#gd)" />
<circle cx="315.4" cy="607.1" r="2.8" fill="url(#gd)" />
</g>
<clipPath id="c65"><rect x="339" y="564.4" width="54.4" height="53.6"/></clipPath>
<rect x="339" y="564.4" width="54.4" height="53.6" fill="#020202" />
<g clip-path="url(#c65)">
<circle cx="341.4" cy="570.1" r="2.8" fill="url(#gf)" />
<circle cx="361.1" cy="572.5" r="2.8" fill="url(#gf)" />
<circle cx="349.3" cy="591.6" r="2.8" fill="url(#gf)" />
<circle cx="370.8" cy="603.7" r="2.8" fill="url(#gf)" />
<circle cx="375" cy="608.2" r="2.8" fill="url(#gf)" />
<circle cx="387.4" cy="600.2" r="2.8" fill="url(#gf)" />
</g>
<text x="44" y="596.7" font-size="9.9" text-anchor="end" font-weight="normal" font-style="normal" fill="#1c1c1c" stroke="#1c1c1c" stroke-width="0.12" >pSTAT5</text>
<clipPath id="c70"><rect x="49" y="624" width="54.4" height="54.5"/></clipPath>
<rect x="49" y="624" width="54.4" height="54.5" fill="#050512" />
<g clip-path="url(#c70)">
<circle cx="57.1" cy="643.5" r="3.3" fill="url(#nd)" />
<circle cx="67.5" cy="640.8" r="3.3" fill="url(#nd)" />
<circle cx="72" cy="647.7" r="3.3" fill="url(#nd)" />
<circle cx="66.5" cy="653.6" r="3.3" fill="url(#nd)" />
<circle cx="53.7" cy="666.7" r="3.3" fill="url(#nd)" />
<circle cx="56.1" cy="671.9" r="3.3" fill="url(#nd)" />
<circle cx="59.5" cy="673" r="3.3" fill="url(#nd)" />
<circle cx="89.3" cy="671.9" r="3.3" fill="url(#nd)" />
</g>
<clipPath id="c71"><rect x="107.4" y="624" width="54.4" height="54.5"/></clipPath>
<rect x="107.4" y="624" width="54.4" height="54.5" fill="#050512" />
<g clip-path="url(#c71)">
<circle cx="134.3" cy="652.9" r="3.3" fill="url(#nd)" />
<circle cx="138.5" cy="651.8" r="3.3" fill="url(#nd)" />
<circle cx="110.8" cy="669.2" r="3.3" fill="url(#nd)" />
<circle cx="121.8" cy="674.7" r="3.3" fill="url(#nd)" />
<circle cx="149.5" cy="673.7" r="3.3" fill="url(#nd)" />
</g>
<clipPath id="c72"><rect x="165.2" y="624" width="54.4" height="54.5"/></clipPath>
<rect x="165.2" y="624" width="54.4" height="54.5" fill="#050512" />
<g clip-path="url(#c72)">
<circle cx="183.5" cy="628.7" r="3.3" fill="url(#nd)" />
<circle cx="184.1" cy="634.5" r="3.3" fill="url(#nd)" />
<circle cx="179.3" cy="649.4" r="3.3" fill="url(#nd)" />
<circle cx="173.1" cy="654.6" r="3.3" fill="url(#nd)" />
<circle cx="174.8" cy="659.8" r="3.3" fill="url(#nd)" />
<circle cx="199" cy="669.2" r="3.3" fill="url(#nd)" />
<circle cx="212.9" cy="671.9" r="3.3" fill="url(#nd)" />
</g>
<clipPath id="c73"><rect x="223.5" y="624" width="54.4" height="54.5"/></clipPath>
<rect x="223.5" y="624" width="54.4" height="54.5" fill="#050512" />
<g clip-path="url(#c73)">
<circle cx="263.3" cy="629.7" r="3.3" fill="url(#nd)" />
<circle cx="271.9" cy="632.1" r="3.3" fill="url(#nd)" />
<circle cx="267.8" cy="650.5" r="3.3" fill="url(#nd)" />
<circle cx="226.2" cy="655.3" r="3.3" fill="url(#nd)" />
<circle cx="228.7" cy="657.4" r="3.3" fill="url(#nd)" />
<circle cx="249.4" cy="664.3" r="3.3" fill="url(#nd)" />
<circle cx="257.4" cy="667.8" r="3.3" fill="url(#nd)" />
</g>
<clipPath id="c74"><rect x="281.5" y="624" width="54.4" height="54.5"/></clipPath>
<rect x="281.5" y="624" width="54.4" height="54.5" fill="#050512" />
<g clip-path="url(#c74)">
<circle cx="286.5" cy="632.1" r="3.3" fill="url(#nd)" />
<circle cx="291" cy="636.6" r="3.3" fill="url(#nd)" />
<circle cx="309.3" cy="634.5" r="3.3" fill="url(#nd)" />
<circle cx="314.2" cy="634.5" r="3.3" fill="url(#nd)" />
<circle cx="311.7" cy="630.4" r="3.3" fill="url(#nd)" />
<circle cx="316.9" cy="666.7" r="3.3" fill="url(#nd)" />
</g>
<clipPath id="c75"><rect x="339" y="624" width="54.4" height="54.5"/></clipPath>
<rect x="339" y="624" width="54.4" height="54.5" fill="#050512" />
<g clip-path="url(#c75)">
<circle cx="342.9" cy="629.7" r="3.3" fill="url(#nd)" />
<circle cx="362.6" cy="632.1" r="3.3" fill="url(#nd)" />
<circle cx="350.8" cy="651.2" r="3.3" fill="url(#nd)" />
<circle cx="372.3" cy="663.3" r="3.3" fill="url(#nd)" />
<circle cx="376.5" cy="667.8" r="3.3" fill="url(#nd)" />
<circle cx="388.9" cy="659.8" r="3.3" fill="url(#nd)" />
</g>
<text x="44" y="657.1" font-size="9.6" text-anchor="end" font-weight="normal" font-style="normal" fill="#1c1c1c" stroke="#1c1c1c" stroke-width="0.12" >Nucleus</text>
<line x1="383.6" y1="681.7" x2="392.3" y2="681.7" stroke="#000" stroke-width="1.5" />
<line x1="408" y1="198.44" x2="408" y2="298.7" stroke="#1a1a1a" stroke-width="1.4" />
<line x1="407.4" y1="298" x2="512.5" y2="298" stroke="#1a1a1a" stroke-width="1.4" />
<line x1="405.2" y1="298" x2="408" y2="298" stroke="#1a1a1a" stroke-width="1.4" />
<text x="402.5" y="300.95" font-size="8.2" text-anchor="end" font-weight="normal" font-style="normal" fill="#1c1c1c" stroke="#1c1c1c" stroke-width="0.12" >0</text>
<line x1="405.2" y1="249.62" x2="408" y2="249.62" stroke="#1a1a1a" stroke-width="1.4" />
<text x="402.5" y="252.57" font-size="8.2" text-anchor="end" font-weight="normal" font-style="normal" fill="#1c1c1c" stroke="#1c1c1c" stroke-width="0.12" >1</text>
<line x1="405.2" y1="201.24" x2="408" y2="201.24" stroke="#1a1a1a" stroke-width="1.4" />
<text x="402.5" y="204.19" font-size="8.2" text-anchor="end" font-weight="normal" font-style="normal" fill="#1c1c1c" stroke="#1c1c1c" stroke-width="0.12" >2</text>
<rect x="416.25" y="249.62" width="11.75" height="48.38" fill="#b50028" stroke="#8e0020" stroke-width="0.5"/>
<line x1="422.12" y1="249.62" x2="422.12" y2="240.43" stroke="#1a1a1a" stroke-width="1.4" />
<line x1="419.82" y1="240.43" x2="424.43" y2="240.43" stroke="#1a1a1a" stroke-width="1.5" />
<rect x="428" y="249.62" width="12" height="48.38" fill="#314d86" stroke="#263f72" stroke-width="0.5"/>
<line x1="434" y1="249.62" x2="434" y2="238.49" stroke="#1a1a1a" stroke-width="1.4" />
<line x1="431.7" y1="238.49" x2="436.3" y2="238.49" stroke="#1a1a1a" stroke-width="1.5" />
<rect x="452.5" y="249.62" width="11.75" height="48.38" fill="#b50028" stroke="#8e0020" stroke-width="0.5"/>
<line x1="458.38" y1="249.62" x2="458.38" y2="243.33" stroke="#1a1a1a" stroke-width="1.4" />
<line x1="456.07" y1="243.33" x2="460.68" y2="243.33" stroke="#1a1a1a" stroke-width="1.5" />
<rect x="464.25" y="242.85" width="12" height="55.15" fill="#314d86" stroke="#263f72" stroke-width="0.5"/>
<line x1="470.25" y1="242.85" x2="470.25" y2="237.53" stroke="#1a1a1a" stroke-width="1.4" />
<line x1="467.95" y1="237.53" x2="472.55" y2="237.53" stroke="#1a1a1a" stroke-width="1.5" />
<rect x="485.75" y="249.62" width="12.25" height="48.38" fill="#b50028" stroke="#8e0020" stroke-width="0.5"/>
<line x1="491.88" y1="249.62" x2="491.88" y2="243.33" stroke="#1a1a1a" stroke-width="1.4" />
<line x1="489.57" y1="243.33" x2="494.18" y2="243.33" stroke="#1a1a1a" stroke-width="1.5" />
<rect x="498" y="251.56" width="12" height="46.44" fill="#314d86" stroke="#263f72" stroke-width="0.5"/>
<line x1="504" y1="251.56" x2="504" y2="248.65" stroke="#1a1a1a" stroke-width="1.4" />
<line x1="501.7" y1="248.65" x2="506.3" y2="248.65" stroke="#1a1a1a" stroke-width="1.5" />
<text x="460" y="208.6" font-size="9.8" text-anchor="middle" font-weight="bold" font-style="normal" fill="#111"  >pERK</text>
<line x1="421" y1="230.9" x2="435" y2="230.9" stroke="#1a1a1a" stroke-width="1.4" />
<text x="428" y="228.6" font-size="7.8" text-anchor="middle" font-weight="normal" font-style="normal" fill="#1c1c1c" stroke="#1c1c1c" stroke-width="0.12" >ns</text>
<line x1="457.5" y1="230.3" x2="471" y2="230.3" stroke="#1a1a1a" stroke-width="1.4" />
<circle cx="462.32" cy="224.8" r="1.2" fill="#1e1e1e" />
<circle cx="466.18" cy="224.8" r="1.2" fill="#1e1e1e" />
<line x1="491" y1="232.4" x2="505" y2="232.4" stroke="#1a1a1a" stroke-width="1.4" />
<circle cx="496.07" cy="226.9" r="1.2" fill="#1e1e1e" />
<circle cx="499.93" cy="226.9" r="1.2" fill="#1e1e1e" />
<text x="428" y="308.3" font-size="8.2" text-anchor="middle" font-weight="normal" font-style="normal" fill="#1c1c1c" stroke="#1c1c1c" stroke-width="0.12" >LT-HSC</text>
<text x="464.3" y="308.3" font-size="8.2" text-anchor="middle" font-weight="normal" font-style="normal" fill="#1c1c1c" stroke="#1c1c1c" stroke-width="0.12" >ST-HSC</text>
<text x="498" y="308.3" font-size="8.2" text-anchor="middle" font-weight="normal" font-style="normal" fill="#1c1c1c" stroke="#1c1c1c" stroke-width="0.12" >MPP</text>
<line x1="408" y1="318.44" x2="408" y2="418.7" stroke="#1a1a1a" stroke-width="1.4" />
<line x1="407.4" y1="418" x2="512.5" y2="418" stroke="#1a1a1a" stroke-width="1.4" />
<line x1="405.2" y1="418" x2="408" y2="418" stroke="#1a1a1a" stroke-width="1.4" />
<text x="402.5" y="420.95" font-size="8.2" text-anchor="end" font-weight="normal" font-style="normal" fill="#1c1c1c" stroke="#1c1c1c" stroke-width="0.12" >0</text>
<line x1="405.2" y1="369.62" x2="408" y2="369.62" stroke="#1a1a1a" stroke-width="1.4" />
<text x="402.5" y="372.57" font-size="8.2" text-anchor="end" font-weight="normal" font-style="normal" fill="#1c1c1c" stroke="#1c1c1c" stroke-width="0.12" >1</text>
<line x1="405.2" y1="321.24" x2="408" y2="321.24" stroke="#1a1a1a" stroke-width="1.4" />
<text x="402.5" y="324.19" font-size="8.2" text-anchor="end" font-weight="normal" font-style="normal" fill="#1c1c1c" stroke="#1c1c1c" stroke-width="0.12" >2</text>
<rect x="416.25" y="372.04" width="11.75" height="45.96" fill="#b50028" stroke="#8e0020" stroke-width="0.5"/>
<line x1="422.12" y1="372.04" x2="422.12" y2="362.85" stroke="#1a1a1a" stroke-width="1.4" />
<line x1="419.82" y1="362.85" x2="424.43" y2="362.85" stroke="#1a1a1a" stroke-width="1.5" />
<rect x="428" y="357.04" width="12" height="60.96" fill="#314d86" stroke="#263f72" stroke-width="0.5"/>
<line x1="434" y1="357.04" x2="434" y2="347.85" stroke="#1a1a1a" stroke-width="1.4" />
<line x1="431.7" y1="347.85" x2="436.3" y2="347.85" stroke="#1a1a1a" stroke-width="1.5" />
<rect x="452.5" y="372.04" width="11.75" height="45.96" fill="#b50028" stroke="#8e0020" stroke-width="0.5"/>
<line x1="458.38" y1="372.04" x2="458.38" y2="365.27" stroke="#1a1a1a" stroke-width="1.4" />
<line x1="456.07" y1="365.27" x2="460.68" y2="365.27" stroke="#1a1a1a" stroke-width="1.5" />
<rect x="464.25" y="363.33" width="12" height="54.67" fill="#314d86" stroke="#263f72" stroke-width="0.5"/>
<line x1="470.25" y1="363.33" x2="470.25" y2="358.01" stroke="#1a1a1a" stroke-width="1.4" />
<line x1="467.95" y1="358.01" x2="472.55" y2="358.01" stroke="#1a1a1a" stroke-width="1.5" />
<rect x="485.75" y="373.01" width="12.25" height="44.99" fill="#b50028" stroke="#8e0020" stroke-width="0.5"/>
<line x1="491.88" y1="373.01" x2="491.88" y2="365.27" stroke="#1a1a1a" stroke-width="1.4" />
<line x1="489.57" y1="365.27" x2="494.18" y2="365.27" stroke="#1a1a1a" stroke-width="1.5" />
<rect x="498" y="368.17" width="12" height="49.83" fill="#314d86" stroke="#263f72" stroke-width="0.5"/>
<line x1="504" y1="368.17" x2="504" y2="364.3" stroke="#1a1a1a" stroke-width="1.4" />
<line x1="501.7" y1="364.3" x2="506.3" y2="364.3" stroke="#1a1a1a" stroke-width="1.5" />
<text x="460" y="328.6" font-size="9.8" text-anchor="middle" font-weight="bold" font-style="normal" fill="#111"  >pAKT</text>
<line x1="421" y1="342.6" x2="435" y2="342.6" stroke="#1a1a1a" stroke-width="1.4" />
<circle cx="424.15" cy="337.1" r="1.2" fill="#1e1e1e" />
<circle cx="428" cy="337.1" r="1.2" fill="#1e1e1e" />
<circle cx="431.85" cy="337.1" r="1.2" fill="#1e1e1e" />
<line x1="457.5" y1="352.6" x2="471" y2="352.6" stroke="#1a1a1a" stroke-width="1.4" />
<circle cx="460.4" cy="347.1" r="1.2" fill="#1e1e1e" />
<circle cx="464.25" cy="347.1" r="1.2" fill="#1e1e1e" />
<circle cx="468.1" cy="347.1" r="1.2" fill="#1e1e1e" />
<line x1="491" y1="357.6" x2="505" y2="357.6" stroke="#1a1a1a" stroke-width="1.4" />
<text x="498" y="355.3" font-size="7.8" text-anchor="middle" font-weight="normal" font-style="normal" fill="#1c1c1c" stroke="#1c1c1c" stroke-width="0.12" >ns</text>
<text x="428" y="428.3" font-size="8.2" text-anchor="middle" font-weight="normal" font-style="normal" fill="#1c1c1c" stroke="#1c1c1c" stroke-width="0.12" >LT-HSC</text>
<text x="464.3" y="428.3" font-size="8.2" text-anchor="middle" font-weight="normal" font-style="normal" fill="#1c1c1c" stroke="#1c1c1c" stroke-width="0.12" >ST-HSC</text>
<text x="498" y="428.3" font-size="8.2" text-anchor="middle" font-weight="normal" font-style="normal" fill="#1c1c1c" stroke="#1c1c1c" stroke-width="0.12" >MPP</text>
<line x1="408" y1="445.22" x2="408" y2="543.7" stroke="#1a1a1a" stroke-width="1.4" />
<line x1="407.4" y1="543" x2="512.5" y2="543" stroke="#1a1a1a" stroke-width="1.4" />
<line x1="405.2" y1="543" x2="408" y2="543" stroke="#1a1a1a" stroke-width="1.4" />
<text x="402.5" y="545.95" font-size="8.2" text-anchor="end" font-weight="normal" font-style="normal" fill="#1c1c1c" stroke="#1c1c1c" stroke-width="0.12" >0</text>
<line x1="405.2" y1="527.17" x2="408" y2="527.17" stroke="#1a1a1a" stroke-width="1.4" />
<text x="402.5" y="530.12" font-size="8.2" text-anchor="end" font-weight="normal" font-style="normal" fill="#1c1c1c" stroke="#1c1c1c" stroke-width="0.12" >1</text>
<line x1="405.2" y1="511.34" x2="408" y2="511.34" stroke="#1a1a1a" stroke-width="1.4" />
<text x="402.5" y="514.29" font-size="8.2" text-anchor="end" font-weight="normal" font-style="normal" fill="#1c1c1c" stroke="#1c1c1c" stroke-width="0.12" >2</text>
<line x1="405.2" y1="495.51" x2="408" y2="495.51" stroke="#1a1a1a" stroke-width="1.4" />
<text x="402.5" y="498.46" font-size="8.2" text-anchor="end" font-weight="normal" font-style="normal" fill="#1c1c1c" stroke="#1c1c1c" stroke-width="0.12" >3</text>
<line x1="405.2" y1="479.68" x2="408" y2="479.68" stroke="#1a1a1a" stroke-width="1.4" />
<text x="402.5" y="482.63" font-size="8.2" text-anchor="end" font-weight="normal" font-style="normal" fill="#1c1c1c" stroke="#1c1c1c" stroke-width="0.12" >4</text>
<line x1="405.2" y1="463.85" x2="408" y2="463.85" stroke="#1a1a1a" stroke-width="1.4" />
<text x="402.5" y="466.8" font-size="8.2" text-anchor="end" font-weight="normal" font-style="normal" fill="#1c1c1c" stroke="#1c1c1c" stroke-width="0.12" >5</text>
<line x1="405.2" y1="448.02" x2="408" y2="448.02" stroke="#1a1a1a" stroke-width="1.4" />
<text x="402.5" y="450.97" font-size="8.2" text-anchor="end" font-weight="normal" font-style="normal" fill="#1c1c1c" stroke="#1c1c1c" stroke-width="0.12" >6</text>
<rect x="416.25" y="527.17" width="11.75" height="15.83" fill="#b50028" stroke="#8e0020" stroke-width="0.5"/>
<line x1="422.12" y1="527.17" x2="422.12" y2="521.79" stroke="#1a1a1a" stroke-width="1.4" />
<line x1="419.82" y1="521.79" x2="424.43" y2="521.79" stroke="#1a1a1a" stroke-width="1.5" />
<rect x="428" y="501.05" width="12" height="41.95" fill="#314d86" stroke="#263f72" stroke-width="0.5"/>
<line x1="434" y1="501.05" x2="434" y2="483.32" stroke="#1a1a1a" stroke-width="1.4" />
<line x1="431.7" y1="483.32" x2="436.3" y2="483.32" stroke="#1a1a1a" stroke-width="1.5" />
<rect x="452.5" y="527.17" width="11.75" height="15.83" fill="#b50028" stroke="#8e0020" stroke-width="0.5"/>
<line x1="458.38" y1="527.17" x2="458.38" y2="517.51" stroke="#1a1a1a" stroke-width="1.4" />
<line x1="456.07" y1="517.51" x2="460.68" y2="517.51" stroke="#1a1a1a" stroke-width="1.5" />
<rect x="464.25" y="529.54" width="12" height="13.46" fill="#314d86" stroke="#263f72" stroke-width="0.5"/>
<line x1="470.25" y1="529.54" x2="470.25" y2="526.06" stroke="#1a1a1a" stroke-width="1.4" />
<line x1="467.95" y1="526.06" x2="472.55" y2="526.06" stroke="#1a1a1a" stroke-width="1.5" />
<rect x="485.75" y="527.17" width="12.25" height="15.83" fill="#b50028" stroke="#8e0020" stroke-width="0.5"/>
<line x1="491.88" y1="527.17" x2="491.88" y2="522.58" stroke="#1a1a1a" stroke-width="1.4" />
<line x1="489.57" y1="522.58" x2="494.18" y2="522.58" stroke="#1a1a1a" stroke-width="1.5" />
<rect x="498" y="524.32" width="12" height="18.68" fill="#314d86" stroke="#263f72" stroke-width="0.5"/>
<line x1="504" y1="524.32" x2="504" y2="522.26" stroke="#1a1a1a" stroke-width="1.4" />
<line x1="501.7" y1="522.26" x2="506.3" y2="522.26" stroke="#1a1a1a" stroke-width="1.5" />
<text x="460" y="453.6" font-size="9.8" text-anchor="middle" font-weight="bold" font-style="normal" fill="#111"  >pSTAT3</text>
<line x1="421" y1="474.1" x2="435" y2="474.1" stroke="#1a1a1a" stroke-width="1.4" />
<circle cx="424.15" cy="468.6" r="1.2" fill="#1e1e1e" />
<circle cx="428" cy="468.6" r="1.2" fill="#1e1e1e" />
<circle cx="431.85" cy="468.6" r="1.2" fill="#1e1e1e" />
<line x1="457.5" y1="506.2" x2="471" y2="506.2" stroke="#1a1a1a" stroke-width="1.4" />
<circle cx="460.4" cy="500.7" r="1.2" fill="#1e1e1e" />
<circle cx="464.25" cy="500.7" r="1.2" fill="#1e1e1e" />
<circle cx="468.1" cy="500.7" r="1.2" fill="#1e1e1e" />
<line x1="491" y1="511.6" x2="505" y2="511.6" stroke="#1a1a1a" stroke-width="1.4" />
<text x="498" y="509.3" font-size="7.8" text-anchor="middle" font-weight="normal" font-style="normal" fill="#1c1c1c" stroke="#1c1c1c" stroke-width="0.12" >ns</text>
<text x="428" y="553.3" font-size="8.2" text-anchor="middle" font-weight="normal" font-style="normal" fill="#1c1c1c" stroke="#1c1c1c" stroke-width="0.12" >LT-HSC</text>
<text x="464.3" y="553.3" font-size="8.2" text-anchor="middle" font-weight="normal" font-style="normal" fill="#1c1c1c" stroke="#1c1c1c" stroke-width="0.12" >ST-HSC</text>
<text x="498" y="553.3" font-size="8.2" text-anchor="middle" font-weight="normal" font-style="normal" fill="#1c1c1c" stroke="#1c1c1c" stroke-width="0.12" >MPP</text>
<line x1="408" y1="573.19" x2="408" y2="670.95" stroke="#1a1a1a" stroke-width="1.4" />
<line x1="407.4" y1="670.25" x2="512.5" y2="670.25" stroke="#1a1a1a" stroke-width="1.4" />
<line x1="405.2" y1="670.25" x2="408" y2="670.25" stroke="#1a1a1a" stroke-width="1.4" />
<text x="402.5" y="673.2" font-size="8.2" text-anchor="end" font-weight="normal" font-style="normal" fill="#1c1c1c" stroke="#1c1c1c" stroke-width="0.12" >0</text>
<line x1="405.2" y1="654.54" x2="408" y2="654.54" stroke="#1a1a1a" stroke-width="1.4" />
<text x="402.5" y="657.49" font-size="8.2" text-anchor="end" font-weight="normal" font-style="normal" fill="#1c1c1c" stroke="#1c1c1c" stroke-width="0.12" >1</text>
<line x1="405.2" y1="638.83" x2="408" y2="638.83" stroke="#1a1a1a" stroke-width="1.4" />
<text x="402.5" y="641.78" font-size="8.2" text-anchor="end" font-weight="normal" font-style="normal" fill="#1c1c1c" stroke="#1c1c1c" stroke-width="0.12" >2</text>
<line x1="405.2" y1="623.12" x2="408" y2="623.12" stroke="#1a1a1a" stroke-width="1.4" />
<text x="402.5" y="626.07" font-size="8.2" text-anchor="end" font-weight="normal" font-style="normal" fill="#1c1c1c" stroke="#1c1c1c" stroke-width="0.12" >3</text>
<line x1="405.2" y1="607.41" x2="408" y2="607.41" stroke="#1a1a1a" stroke-width="1.4" />
<text x="402.5" y="610.36" font-size="8.2" text-anchor="end" font-weight="normal" font-style="normal" fill="#1c1c1c" stroke="#1c1c1c" stroke-width="0.12" >4</text>
<line x1="405.2" y1="591.7" x2="408" y2="591.7" stroke="#1a1a1a" stroke-width="1.4" />
<text x="402.5" y="594.65" font-size="8.2" text-anchor="end" font-weight="normal" font-style="normal" fill="#1c1c1c" stroke="#1c1c1c" stroke-width="0.12" >5</text>
<line x1="405.2" y1="575.99" x2="408" y2="575.99" stroke="#1a1a1a" stroke-width="1.4" />
<text x="402.5" y="578.94" font-size="8.2" text-anchor="end" font-weight="normal" font-style="normal" fill="#1c1c1c" stroke="#1c1c1c" stroke-width="0.12" >6</text>
<rect x="416.25" y="654.54" width="11.75" height="15.71" fill="#b50028" stroke="#8e0020" stroke-width="0.5"/>
<line x1="422.12" y1="654.54" x2="422.12" y2="647" stroke="#1a1a1a" stroke-width="1.4" />
<line x1="419.82" y1="647" x2="424.43" y2="647" stroke="#1a1a1a" stroke-width="1.5" />
<rect x="428" y="598.46" width="12" height="71.79" fill="#314d86" stroke="#263f72" stroke-width="0.5"/>
<line x1="434" y1="598.46" x2="434" y2="581.49" stroke="#1a1a1a" stroke-width="1.4" />
<line x1="431.7" y1="581.49" x2="436.3" y2="581.49" stroke="#1a1a1a" stroke-width="1.5" />
<rect x="452.5" y="654.54" width="11.75" height="15.71" fill="#b50028" stroke="#8e0020" stroke-width="0.5"/>
<line x1="458.38" y1="654.54" x2="458.38" y2="647.47" stroke="#1a1a1a" stroke-width="1.4" />
<line x1="456.07" y1="647.47" x2="460.68" y2="647.47" stroke="#1a1a1a" stroke-width="1.5" />
<rect x="464.25" y="657.52" width="12" height="12.73" fill="#314d86" stroke="#263f72" stroke-width="0.5"/>
<line x1="470.25" y1="657.52" x2="470.25" y2="653.28" stroke="#1a1a1a" stroke-width="1.4" />
<line x1="467.95" y1="653.28" x2="472.55" y2="653.28" stroke="#1a1a1a" stroke-width="1.5" />
<rect x="485.75" y="654.54" width="12.25" height="15.71" fill="#b50028" stroke="#8e0020" stroke-width="0.5"/>
<line x1="491.88" y1="654.54" x2="491.88" y2="649.51" stroke="#1a1a1a" stroke-width="1.4" />
<line x1="489.57" y1="649.51" x2="494.18" y2="649.51" stroke="#1a1a1a" stroke-width="1.5" />
<rect x="498" y="657.05" width="12" height="13.2" fill="#314d86" stroke="#263f72" stroke-width="0.5"/>
<line x1="504" y1="657.05" x2="504" y2="655.48" stroke="#1a1a1a" stroke-width="1.4" />
<line x1="501.7" y1="655.48" x2="506.3" y2="655.48" stroke="#1a1a1a" stroke-width="1.5" />
<text x="467" y="580.6" font-size="9.8" text-anchor="middle" font-weight="bold" font-style="normal" fill="#111"  >pSTAT5</text>
<line x1="421.5" y1="575.2" x2="434.5" y2="575.2" stroke="#1a1a1a" stroke-width="1.4" />
<circle cx="424.15" cy="569.7" r="1.2" fill="#1e1e1e" />
<circle cx="428" cy="569.7" r="1.2" fill="#1e1e1e" />
<circle cx="431.85" cy="569.7" r="1.2" fill="#1e1e1e" />
<line x1="457.5" y1="637.3" x2="471" y2="637.3" stroke="#1a1a1a" stroke-width="1.4" />
<circle cx="460.4" cy="631.8" r="1.2" fill="#1e1e1e" />
<circle cx="464.25" cy="631.8" r="1.2" fill="#1e1e1e" />
<circle cx="468.1" cy="631.8" r="1.2" fill="#1e1e1e" />
<line x1="491" y1="637.3" x2="505" y2="637.3" stroke="#1a1a1a" stroke-width="1.4" />
<circle cx="494.15" cy="631.8" r="1.2" fill="#1e1e1e" />
<circle cx="498" cy="631.8" r="1.2" fill="#1e1e1e" />
<circle cx="501.85" cy="631.8" r="1.2" fill="#1e1e1e" />
<text x="428" y="680.55" font-size="8.2" text-anchor="middle" font-weight="normal" font-style="normal" fill="#1c1c1c" stroke="#1c1c1c" stroke-width="0.12" >LT-HSC</text>
<text x="464.3" y="680.55" font-size="8.2" text-anchor="middle" font-weight="normal" font-style="normal" fill="#1c1c1c" stroke="#1c1c1c" stroke-width="0.12" >ST-HSC</text>
<text x="498" y="680.55" font-size="8.2" text-anchor="middle" font-weight="normal" font-style="normal" fill="#1c1c1c" stroke="#1c1c1c" stroke-width="0.12" >MPP</text>
<rect x="0.75" y="0.75" width="518.5" height="687.5" fill="none" stroke="#000" stroke-width="1.5"/>
<rect x="0" y="686.6" width="520" height="2.4" fill="#000"/>
</svg>
</body></html>
